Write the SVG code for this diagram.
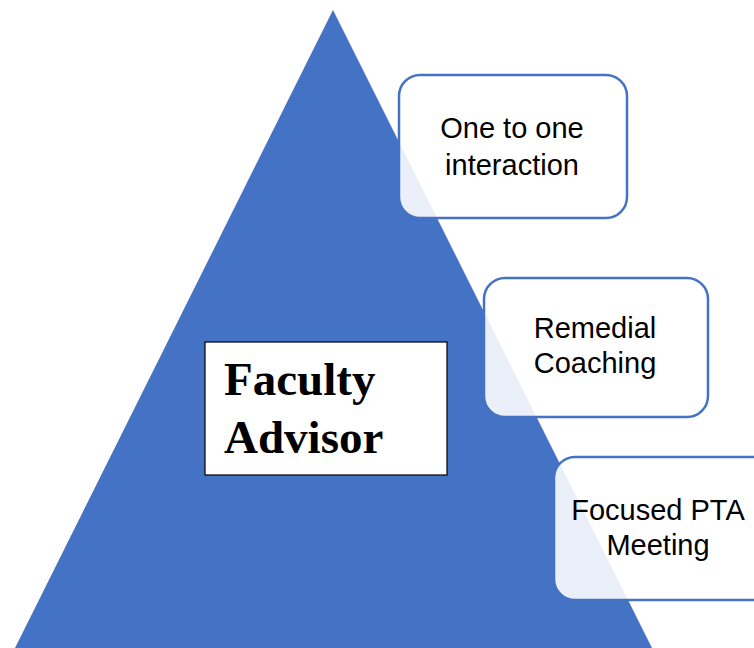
<svg xmlns="http://www.w3.org/2000/svg" width="754" height="648" viewBox="0 0 754 648">
  <style>
    .tri { fill: #4472C4; }
    .card { fill: #FFFFFF; fill-opacity: 0.89; stroke: #4472C4; stroke-width: 2.5; }
    .cardtxt { font-family: "Liberation Sans", Arial, sans-serif; font-size: 29px; fill: #000; text-anchor: middle; }
    .main { fill: #FFFFFF; stroke: #000; stroke-width: 1.2; }
    .maintxt { font-family: "Liberation Serif", "Times New Roman", serif; font-weight: bold; font-size: 47px; fill: #000; }
  </style>
  <rect width="754" height="648" fill="#FFFFFF"/>
  <g id="pyramid">
    <polygon class="tri" points="333,10 15,648 652,648"/>
  </g>
  <g id="faculty-advisor">
    <rect class="main" x="205" y="342" width="242" height="133"/>
    <text class="maintxt" x="224" y="395">Faculty</text>
    <text class="maintxt" x="224" y="453">Advisor</text>
  </g>
  <g id="connectors"></g>
  <g id="one-to-one">
    <rect class="card" x="399" y="75" width="228" height="143" rx="21"/>
    <text class="cardtxt" x="512" y="138">One to one</text>
    <text class="cardtxt" x="512" y="175">interaction</text>
  </g>
  <g id="remedial">
    <rect class="card" x="484" y="278" width="224" height="139" rx="21"/>
    <text class="cardtxt" x="595" y="338">Remedial</text>
    <text class="cardtxt" x="595" y="373">Coaching</text>
  </g>
  <g id="pta">
    <rect class="card" x="554" y="457" width="226" height="143" rx="21"/>
    <text class="cardtxt" x="658" y="520">Focused PTA</text>
    <text class="cardtxt" x="658" y="555">Meeting</text>
  </g>
</svg>
